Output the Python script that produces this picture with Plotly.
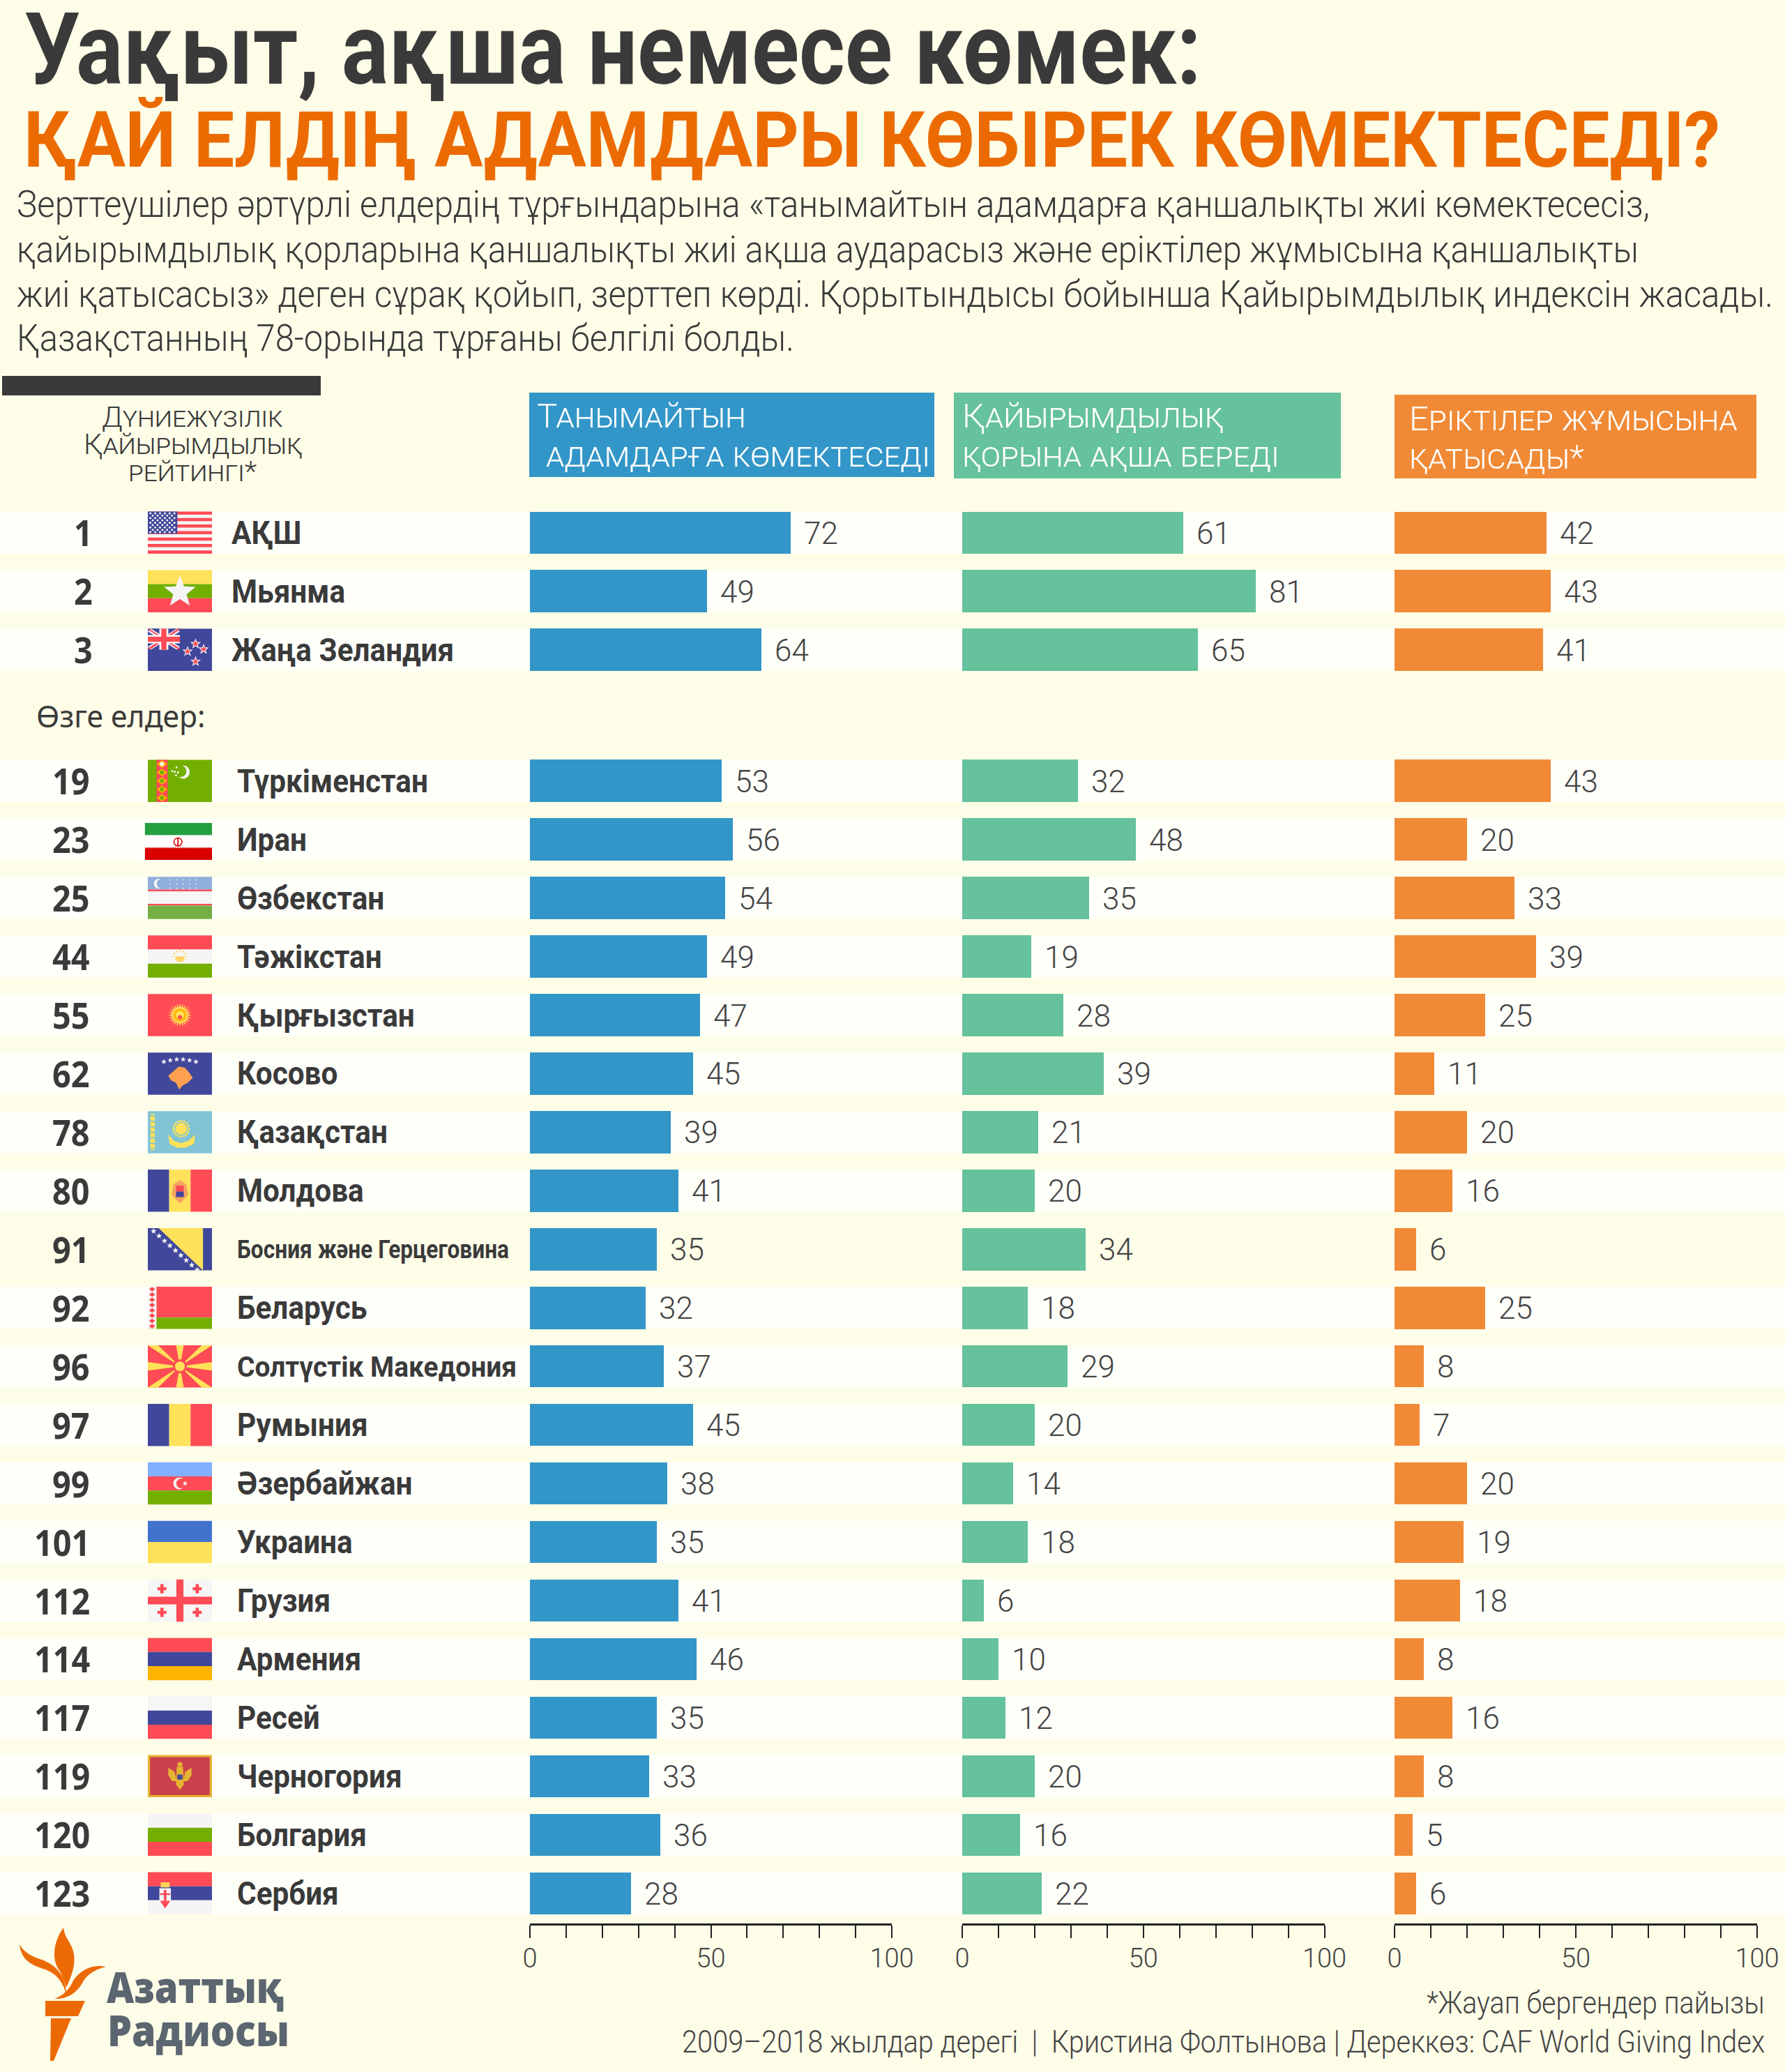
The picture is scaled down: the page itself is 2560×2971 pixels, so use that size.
import json
import math
import plotly.graph_objects as go

ranks = [1, 2, 3, 19, 23, 25, 44, 55, 62, 78, 80, 91, 92, 96, 97, 99, 101, 112, 114, 117, 119, 120, 123]
countries = ["АҚШ", "Мьянма", "Жаңа Зеландия", "Түркіменстан", "Иран", "Өзбекстан", "Тәжікстан",
             "Қырғызстан", "Косово", "Қазақстан", "Молдова", "Босния және Герцеговина", "Беларусь",
             "Солтүстік Македония", "Румыния", "Әзербайжан", "Украина", "Грузия", "Армения",
             "Ресей", "Черногория", "Болгария", "Сербия"]
helps = [72, 49, 64, 53, 56, 54, 49, 47, 45, 39, 41, 35, 32, 37, 45, 38, 35, 41, 46, 35, 33, 36, 28]
money = [61, 81, 65, 32, 48, 35, 19, 28, 39, 21, 20, 34, 18, 29, 20, 14, 18, 6, 10, 12, 20, 16, 22]
volunteers = [42, 43, 41, 43, 20, 33, 39, 25, 11, 20, 16, 6, 25, 8, 7, 20, 19, 18, 8, 16, 8, 5, 6]
tick_vals = [0, 10, 20, 30, 40, 50, 60, 70, 80, 90, 100]
tick_text = ["0", "", "", "", "", "50", "", "", "", "", "100"]

title_1 = "Уақыт, ақша немесе көмек:"
title_2 = "ҚАЙ ЕЛДІҢ АДАМДАРЫ КӨБІРЕК КӨМЕКТЕСЕДІ?"
intro = ["Зерттеушілер әртүрлі елдердің тұрғындарына «танымайтын адамдарға қаншалықты жиі көмектесесіз,",
         "қайырымдылық қорларына қаншалықты жиі ақша аударасыз және еріктілер жұмысына қаншалықты",
         "жиі қатысасыз» деген сұрақ қойып, зерттеп көрді. Қорытындысы бойынша Қайырымдылық индексін жасады.",
         "Қазақстанның 78-орында тұрғаны белгілі болды."]
intro_widths = [2342, 2326, 2519, 1115]

W, H = 2560, 2971
ROW_TOP, PITCH, ROW_H = 733.5, 83.95, 60.5
GAP_ROWS = 1.24
FLAG_X, FLAG_W = 212, 92
DARK = "#3a3a3a"
BG = "#fdfde8"
RED, BLUE, WHITE, GREEN, YELLOW = "#ff4b55", "#41479b", "#f5f5f5", "#73af00", "#ffe15a"
BOLD = "Roboto"
LIGHT = "Roboto"

shapes = []
annotations = []
fits = []  # per annotation: squeeze factor, or target width in px


def row_top(i):
    return ROW_TOP + PITCH * (i + (GAP_ROWS if i >= 3 else 0))


def rect(x0, y0, x1, y1, color):
    shapes.append(dict(type="rect", xref="x", yref="y", x0=x0, y0=y0, x1=x1, y1=y1,
                       fillcolor=color, line_width=0, layer="below"))


def poly(points, color):
    d = "M" + " L".join(f"{x:.1f} {y:.1f}" for x, y in points) + " Z"
    shapes.append(dict(type="path", xref="x", yref="y", path=d, fillcolor=color, line_width=0, layer="below"))


def label(x, y, text, size, color=DARK, family=LIGHT, weight=400, anchor="left", variant="normal", fit=None, **kw):
    annotations.append(dict(xref=kw.pop("xref", "x"), yref="y", x=x, y=y, text=text, showarrow=False,
                            xanchor=anchor, yanchor="middle", align=anchor,
                            font=dict(family=family, size=size, color=color, weight=weight, variant=variant), **kw))
    fits.append(fit)


# flag helpers: u, v are fractions of the flag box
def fx(u):
    return FLAG_X + u * FLAG_W


def fy(top, v):
    return top + v * ROW_H


def frect(t, u0, v0, u1, v1, c):
    rect(fx(u0), fy(t, v0), fx(u1), fy(t, v1), c)


def fpoly(t, pts, c):
    poly([(fx(u), fy(t, v)) for u, v in pts], c)


def hbands(t, colors, u0=0, v0=0, v1=1):
    step = (v1 - v0) / len(colors)
    for k, c in enumerate(colors):
        frect(t, u0, v0 + k * step, 1, v0 + (k + 1) * step, c)


def vbands(t, colors):
    for k, c in enumerate(colors):
        frect(t, k / len(colors), 0, (k + 1) / len(colors), 1, c)


def disc(t, u, v, r, c):
    x, y = fx(u), fy(t, v)
    shapes.append(dict(type="circle", xref="x", yref="y", x0=x - r, x1=x + r, y0=y - r, y1=y + r,
                       fillcolor=c, line_width=0, layer="below"))


def spiky(t, u, v, r_out, r_in, n, c):
    x, y = fx(u), fy(t, v)
    pts = []
    for k in range(2 * n):
        a = -math.pi / 2 + k * math.pi / n
        r = r_out if k % 2 == 0 else r_in
        pts.append((x + r * math.cos(a), y + r * math.sin(a)))
    poly(pts, c)


def star(t, u, v, r, c):
    spiky(t, u, v, r, r * 0.42, 5, c)


def usa(t):
    hbands(t, [RED if k % 2 == 0 else WHITE for k in range(13)])
    frect(t, 0, 0, 0.46, 0.525, BLUE)
    for row in range(9):
        for col in range(6 - row % 2):
            disc(t, 0.04 + 0.075 * col + (0.037 if row % 2 else 0), 0.04 + 0.056 * row, 1.5, WHITE)


def myanmar(t):
    hbands(t, [YELLOW, GREEN, RED])
    star(t, 0.5, 0.52, 24, WHITE)


def union_jack(t, u1=0.5, v1=0.5):
    frect(t, 0, 0, u1, v1, BLUE)
    fpoly(t, [(0, 0.07), (0.05, 0), (u1, v1 - 0.07), (u1 - 0.05, v1)], WHITE)
    fpoly(t, [(0, v1 - 0.07), (u1 - 0.05, 0), (u1, 0.07), (0.05, v1)], WHITE)
    fpoly(t, [(0, 0.02), (0.02, 0), (u1, v1 - 0.03), (u1 - 0.02, v1)], RED)
    fpoly(t, [(0, v1 - 0.03), (u1 - 0.03, 0), (u1, 0.02), (0.03, v1)], RED)
    frect(t, u1 / 2 - 0.07, 0, u1 / 2 + 0.07, v1, WHITE)
    frect(t, 0, v1 / 2 - 0.1, u1, v1 / 2 + 0.1, WHITE)
    frect(t, u1 / 2 - 0.04, 0, u1 / 2 + 0.04, v1, RED)
    frect(t, 0, v1 / 2 - 0.06, u1, v1 / 2 + 0.06, RED)


def new_zealand(t):
    frect(t, 0, 0, 1, 1, BLUE)
    union_jack(t)
    for u, v in [(0.745, 0.36), (0.62, 0.54), (0.87, 0.49), (0.745, 0.78)]:
        star(t, u, v, 8, WHITE)
        star(t, u, v, 5, RED)


def turkmenistan(t):
    frect(t, 0, 0, 1, 1, GREEN)
    frect(t, 0.135, 0, 0.31, 1, RED)
    for v in [0.1, 0.3, 0.5, 0.7, 0.9]:
        fpoly(t, [(0.14, v), (0.22, v - 0.09), (0.305, v), (0.22, v + 0.09)], "#ffb400")
        disc(t, 0.22, v, 3, GREEN if v != 0.1 else WHITE)
    disc(t, 0.55, 0.29, 9.5, WHITE)
    disc(t, 0.51, 0.27, 8.5, GREEN)
    for u, v in [(0.45, 0.18), (0.42, 0.28), (0.47, 0.3), (0.38, 0.27), (0.44, 0.37)]:
        disc(t, u, v, 1.5, WHITE)


def iran(t):
    hbands(t, ["#239f40", "#ffffff", "#da0000"], u0=-0.045, v0=0.11, v1=0.985)
    for k in range(26):
        disc(t, -0.03 + k * 0.04, 0.4, 0.7, WHITE)
        disc(t, -0.03 + k * 0.04, 0.7, 0.7, WHITE)
    disc(t, 0.47, 0.56, 6.5, "#da0000")
    disc(t, 0.47, 0.56, 5, "#ffffff")
    frect(t, 0.46, 0.46, 0.48, 0.66, "#da0000")


def uzbekistan(t):
    frect(t, 0, 0, 1, 0.3, "#8faedc")
    frect(t, 0, 0.3, 1, 0.34, RED)
    frect(t, 0, 0.34, 1, 0.64, WHITE)
    frect(t, 0, 0.64, 1, 0.68, RED)
    frect(t, 0, 0.68, 1, 1, "#73af45")
    disc(t, 0.17, 0.16, 7, WHITE)
    disc(t, 0.21, 0.16, 6.5, "#8faedc")
    for row in range(3):
        for col in range(5):
            disc(t, 0.35 + col * 0.1, 0.07 + row * 0.1, 0.9, WHITE)


def tajikistan(t):
    hbands(t, [RED, WHITE, GREEN])
    frect(t, 0.43, 0.5, 0.57, 0.58, "#ffd25a")
    fpoly(t, [(0.42, 0.62), (0.58, 0.62), (0.5, 0.56)], "#ffd25a")
    for k in range(7):
        a = math.pi + k * math.pi / 6
        disc(t, 0.5 + 0.1 * math.cos(a), 0.5 + 0.14 * math.sin(a), 1.2, "#ffd25a")


def kyrgyzstan(t):
    frect(t, 0, 0, 1, 1, RED)
    spiky(t, 0.5, 0.5, 17, 11, 24, "#ffd25a")
    disc(t, 0.5, 0.5, 9, "#ffb400")
    disc(t, 0.5, 0.5, 6, "#ffe15a")
    disc(t, 0.5, 0.55, 3, RED)


def kosovo(t):
    frect(t, 0, 0, 1, 1, BLUE)
    for k in range(6):
        star(t, 0.25 + k * 0.1, 0.24 - 0.08 * math.sin((k + 0.5) * math.pi / 6), 4, WHITE)
    fpoly(t, [(0.32, 0.55), (0.42, 0.42), (0.48, 0.33), (0.58, 0.36), (0.64, 0.47), (0.7, 0.6), (0.62, 0.72),
              (0.54, 0.78), (0.49, 0.88), (0.44, 0.72), (0.36, 0.66)], "#ffa050")


def kazakhstan(t):
    frect(t, 0, 0, 1, 1, "#82c4d6")
    frect(t, 0.04, 0.07, 0.11, 0.93, "#ffe15a")
    for k in range(7):
        frect(t, 0.03, 0.1 + k * 0.13, 0.12, 0.13 + k * 0.13, "#82c4d6")
    spiky(t, 0.52, 0.42, 13, 11, 16, "#ffe15a")
    disc(t, 0.52, 0.42, 10, "#82c4d6")
    disc(t, 0.52, 0.42, 8.5, "#ffe15a")
    fpoly(t, [(0.32, 0.55), (0.4, 0.7), (0.52, 0.76), (0.64, 0.7), (0.74, 0.55), (0.72, 0.78), (0.58, 0.87),
              (0.46, 0.87), (0.34, 0.78)], "#ffe15a")


def moldova(t):
    vbands(t, [BLUE, YELLOW, RED])
    fpoly(t, [(0.4, 0.35), (0.5, 0.25), (0.6, 0.35), (0.63, 0.6), (0.5, 0.8), (0.37, 0.6)], "#f4a460")
    frect(t, 0.44, 0.38, 0.56, 0.52, RED)
    frect(t, 0.44, 0.52, 0.56, 0.65, BLUE)


def bosnia(t):
    frect(t, 0, 0, 1, 1, BLUE)
    fpoly(t, [(0.17, 0), (0.86, 0), (0.86, 1)], YELLOW)
    for k in range(9):
        star(t, 0.09 + k * 0.085, 0.07 + k * 0.115, 4.5, WHITE)


def belarus(t):
    frect(t, 0, 0, 1, 0.73, RED)
    frect(t, 0, 0.73, 1, 1, GREEN)
    frect(t, 0, 0, 0.135, 1, WHITE)
    for k in range(8):
        v = 0.06 + k * 0.125
        fpoly(t, [(0.02, v), (0.067, v - 0.055), (0.115, v), (0.067, v + 0.055)], RED)


def macedonia(t):
    frect(t, 0, 0, 1, 1, RED)
    rays = [[(0.44, 0), (0.56, 0)], [(0.44, 1), (0.56, 1)], [(0, 0.4), (0, 0.6)], [(1, 0.4), (1, 0.6)],
            [(0, 0), (0.16, 0)], [(0, 1), (0.16, 1)], [(1, 0), (0.84, 0)], [(1, 1), (0.84, 1)]]
    for a, b in rays:
        fpoly(t, [(0.5, 0.5), a, b], YELLOW)
    disc(t, 0.5, 0.5, 10, RED)
    disc(t, 0.5, 0.5, 7, YELLOW)


def romania(t):
    vbands(t, [BLUE, YELLOW, RED])


def azerbaijan(t):
    hbands(t, ["#82afff", RED, GREEN])
    disc(t, 0.49, 0.5, 8.5, WHITE)
    disc(t, 0.52, 0.5, 7, RED)
    star(t, 0.58, 0.5, 4, WHITE)


def ukraine(t):
    hbands(t, ["#4173cd", YELLOW])


def georgia(t):
    frect(t, 0, 0, 1, 1, WHITE)
    frect(t, 0.445, 0, 0.555, 1, RED)
    frect(t, 0, 0.41, 1, 0.59, RED)
    for u, v in [(0.22, 0.22), (0.77, 0.22), (0.22, 0.78), (0.77, 0.78)]:
        frect(t, u - 0.025, v - 0.11, u + 0.025, v + 0.11, RED)
        frect(t, u - 0.07, v - 0.035, u + 0.07, v + 0.035, RED)


def armenia(t):
    hbands(t, [RED, BLUE, "#ffb400"])


def russia(t):
    hbands(t, [WHITE, BLUE, RED])


def montenegro(t):
    frect(t, 0, 0, 1, 1, "#e6b432")
    frect(t, 0.035, 0.05, 0.965, 0.95, "#c8414b")
    fpoly(t, [(0.32, 0.3), (0.42, 0.4), (0.45, 0.62), (0.38, 0.62), (0.32, 0.48)], "#e6b432")
    fpoly(t, [(0.68, 0.3), (0.58, 0.4), (0.55, 0.62), (0.62, 0.62), (0.68, 0.48)], "#e6b432")
    fpoly(t, [(0.45, 0.28), (0.55, 0.28), (0.56, 0.7), (0.5, 0.82), (0.44, 0.7)], "#e6b432")
    disc(t, 0.5, 0.22, 3.5, "#e6b432")
    frect(t, 0.46, 0.46, 0.54, 0.58, BLUE)


def serbia(t):
    hbands(t, [RED, BLUE, WHITE])
    frect(t, 0.18, 0.38, 0.36, 0.72, WHITE)
    fpoly(t, [(0.19, 0.68), (0.35, 0.68), (0.27, 0.86)], RED)
    frect(t, 0.25, 0.42, 0.29, 0.68, RED)
    frect(t, 0.19, 0.5, 0.35, 0.54, RED)
    frect(t, 0.2, 0.24, 0.34, 0.36, "#ffd25a")


def bulgaria(t):
    hbands(t, [WHITE, GREEN, RED])


flag_funcs = [usa, myanmar, new_zealand, turkmenistan, iran, uzbekistan, tajikistan, kyrgyzstan, kosovo,
              kazakhstan, moldova, bosnia, belarus, macedonia, romania, azerbaijan, ukraine, georgia,
              armenia, russia, montenegro, bulgaria, serbia]

row_tops = [row_top(i) for i in range(len(ranks))]
row_mid = [t + ROW_H / 2 for t in row_tops]

# white row stripes (Босния row stays bare, same as the original)
for i, t in enumerate(row_tops):
    if countries[i].startswith("Босния"):
        continue
    rect(0, t, W, t + ROW_H, "#fffffa")

for i, t in enumerate(row_tops):
    flag_funcs[i](t)
    rank_x = 135 if i < 3 else 131
    label(rank_x, row_mid[i] - 1, str(ranks[i]), 52, family="Noto Sans", weight=700, anchor="right", fit=0.9)
    name_x = 330 if i < 3 else 338
    if countries[i].startswith("Босния"):
        label(name_x, row_mid[i] + 1, countries[i], 36, family=BOLD, weight=700, fit=0.88)
    elif countries[i].startswith("Солтүстік"):
        label(name_x, row_mid[i] + 1, countries[i], 41, family=BOLD, weight=700, fit=0.95)
    else:
        label(name_x, row_mid[i], countries[i], 46, family=BOLD, weight=700, fit=0.92)

# header blocks
rect(3, 539, 460, 567, DARK)
rect(759, 563, 1340, 684, "#3396c8")
rect(1368, 563, 1923, 686, "#66c19d")
rect(2000, 566, 2519, 686, "#f18a36")

label(33, 71, title_1, 142, family=BOLD, weight=700, fit=1688)
label(32, 200, title_2, 112, color="#ec6a02", family=BOLD, weight=700, fit=2433)
for y, line, w in zip([292, 357, 421, 484], intro, intro_widths):
    label(22, y, line, 54, family=LIGHT, weight=300, fit=w)

for y, line in zip([598, 637, 676], ["Дүниежүзілік", "Қайырымдылық", "рейтингі*"]):
    label(276, y, line, 41, family=LIGHT, weight=300, anchor="center", variant="small-caps")
label(768, 596, "Танымайтын", 49, color="white", weight=300, variant="small-caps")
label(781, 652, "адамдарға көмектеседі", 49, color="white", weight=300, variant="small-caps")
label(1378, 596, "Қайырымдылық", 49, color="white", weight=300, variant="small-caps")
label(1378, 652, "қорына ақша береді", 49, color="white", weight=300, variant="small-caps")
label(2019, 600, "Еріктілер жұмысына", 49, color="white", weight=300, variant="small-caps")
label(2019, 655, "қатысады*", 49, color="white", weight=300, variant="small-caps")

label(50, 1026, "Өзге елдер:", 44, family="Noto Sans", fit=0.97)

label(2533, 2872, "*Жауап бергендер пайызы", 44, color="#444444", weight=300, anchor="right", fit=485)
label(2533, 2928, "2009–2018 жылдар дерегі\u00a0\u00a0|\u00a0\u00a0Кристина Фолтынова | Дереккөз: CAF World Giving Index",
      44, color="#444444", weight=300, anchor="right", fit=1553)

# logo: torch and name
LOGO = "#ec6a06"
poly([(65, 2869), (122, 2869), (112, 2891), (65, 2891)], LOGO)
poly([(73, 2894), (102, 2894), (77, 2955), (72, 2955)], LOGO)
for d in ["M91 2764 C76 2785 74 2810 85 2825 C90 2835 93 2842 95 2850 C102 2835 110 2815 105 2798 C102 2785 93 2780 91 2764 Z",
          "M28 2788 C30 2810 45 2818 65 2824 C80 2830 90 2840 95 2860 C95 2835 82 2818 60 2810 C45 2805 35 2800 28 2788 Z",
          "M152 2820 C130 2816 115 2826 105 2840 C100 2852 90 2862 78 2866 C98 2867 112 2856 120 2840 C128 2828 140 2823 152 2820 Z"]:
    shapes.append(dict(type="path", xref="x", yref="y", path=d, fillcolor=LOGO, line_width=0, layer="below"))
label(151, 2848, "Азаттық", 62, color="#5c6670", family="Open Sans", weight=800, fit=254)
label(152, 2910, "Радиосы", 62, color="#5c6670", family="Open Sans", weight=800, fit=261)

fig = go.Figure()
# first trace holds the pixel canvas subplot, so stripes sit under the bars
fig.add_trace(go.Scatter(x=[0], y=[0], mode="markers", marker=dict(opacity=0), hoverinfo="skip", showlegend=False))

panels = [("x2", helps, "#3396c8", 760, 1279), ("x3", money, "#66c19d", 1380, 1899.5), ("x4", volunteers, "#f18a36", 2000, 2520)]
layout_axes = {}
for name, values, color, px0, px1 in panels:
    fig.add_trace(go.Bar(x=values, y=row_mid, orientation="h", width=ROW_H, marker=dict(color=color, line_width=0),
                         xaxis=name, yaxis="y", showlegend=False, hoverinfo="skip"))
    for v, ym in zip(values, row_mid):
        label(v, ym + 1, str(v), 44, color="#444444", weight=300, xref=name, xshift=17)
    layout_axes["xaxis" + name[1:]] = dict(
        domain=[px0 / W, px1 / W], range=[0, 100], anchor="free", position=(H - 2759) / H,
        tickmode="array", tickvals=tick_vals, ticktext=tick_text, ticks="outside", ticklen=18, tickwidth=2,
        tickcolor="#222222", showline=True, linecolor="#222222", linewidth=3, showgrid=False, zeroline=False,
        ticklabelstandoff=-4, tickfont=dict(family=LIGHT, size=38, color="#444444", weight=300), fixedrange=True)

fig.update_layout(
    width=W, height=H, margin=dict(l=0, r=0, t=0, b=0, autoexpand=False), paper_bgcolor=BG, plot_bgcolor="rgba(0,0,0,0)",
    bargap=0, barmode="overlay", showlegend=False, shapes=shapes, annotations=annotations,
    xaxis=dict(domain=[0, 1], range=[0, W], visible=False, fixedrange=True),
    yaxis=dict(domain=[0, 1], range=[H, 0], visible=False, fixedrange=True),
    **layout_axes,
)

# no condensed face is installed, so the narrow headings are squeezed after drawing
squeeze_js = """
document.body.style.margin = '0';
var fits = %s;
document.querySelectorAll('.annotation').forEach(function (a) {
  var f = fits[+a.getAttribute('data-index')];
  if (!f) return;
  var t = a.querySelector('.annotation-text');
  t.setAttribute('textLength', f < 5 ? t.getComputedTextLength() * f : f);
  t.setAttribute('lengthAdjust', 'spacingAndGlyphs');
});
""" % json.dumps(fits)

fig.write_html("out.html", config={"displayModeBar": False}, post_script=squeeze_js)
